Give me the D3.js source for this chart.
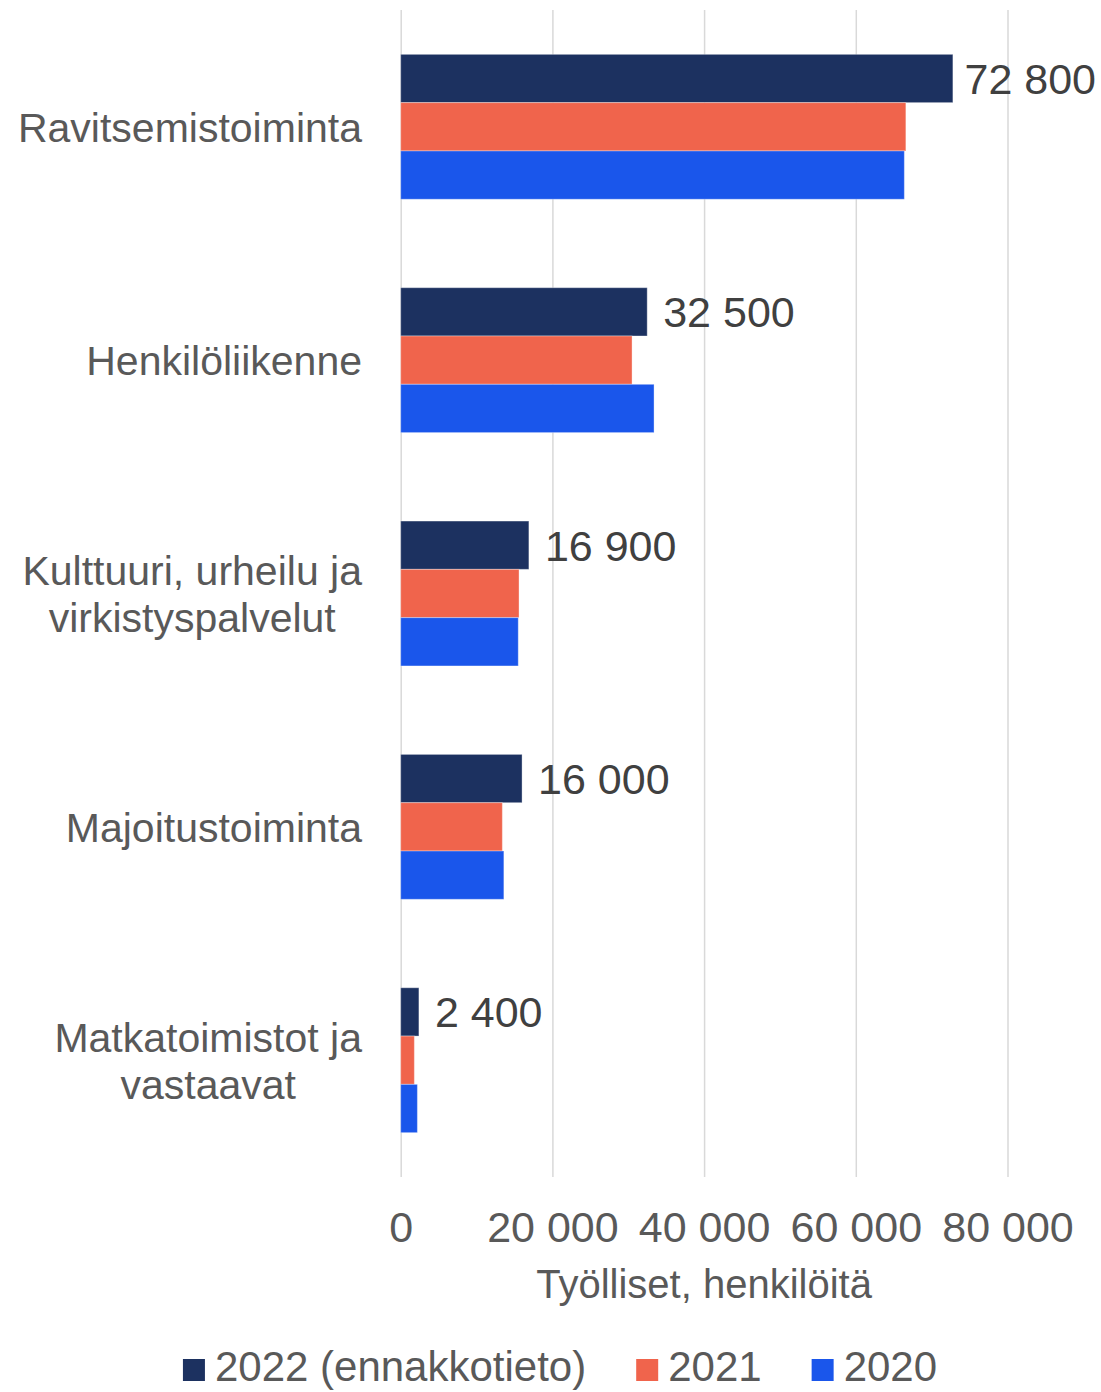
<!DOCTYPE html>
<html><head><meta charset="utf-8">
<script src="https://cdn.jsdelivr.net/npm/d3@7"></script>
<style>html,body{margin:0;padding:0;background:#fff;}svg{display:block;}</style>
</head><body>
<script>
const categories = ["Ravitsemistoiminta","Henkilöliikenne","Kulttuuri, urheilu ja\nvirkistyspalvelut","Majoitustoiminta","Matkatoimistot ja\nvastaavat"];
const seriesNames = ["2022 (ennakkotieto)","2021","2020"];
const values2022 = [72800, 32500, 16900, 16000, 2400];
const values2021 = [66600, 30500, 15600, 13400, 1800];
const values2020 = [66400, 33400, 15500, 13600, 2200];
const valueLabels = ["72 800","32 500","16 900","16 000","2 400"];
const tickValues = [0, 20000, 40000, 60000, 80000];
const tickLabels = ["0","20 000","40 000","60 000","80 000"];
const axisTitle = "Työlliset, henkilöitä";
const colors = ["#1c3160","#f0644c","#1a56eb"];

const W = 1101, H = 1392;
const FONT = "'Liberation Sans', Arial, sans-serif";
const svg = d3.select("body").append("svg").attr("width", W).attr("height", H);

const x = d3.scaleLinear().domain([0, 80000]).range([400.7, 1007.5]);
const y = d3.scaleBand().domain(categories).range([10, 1177]).paddingInner(0.379).paddingOuter(0.19);
const ys = d3.scaleBand().domain(seriesNames).range([0, y.bandwidth()]);

// gridlines
svg.append("g").attr("class","grid")
  .call(d3.axisBottom(x).tickValues(tickValues).tickSize(1177 - 10).tickFormat(""))
  .attr("transform","translate(0,10)")
  .call(g => g.select(".domain").remove())
  .call(g => g.selectAll("line").attr("stroke","#d9d9d9").attr("stroke-width",1.5));

// tick labels
const xa = svg.append("g").attr("transform","translate(0,1177)")
  .call(d3.axisBottom(x).tickValues(tickValues).tickSize(0).tickPadding(0).tickFormat((d,i)=>tickLabels[i]));
xa.select(".domain").remove();
xa.selectAll("text").attr("font-family",FONT).attr("font-size",43).attr("fill","#595959")
  .attr("dy",null).attr("y",65);

// bars
const seriesData = [values2022, values2021, values2020];
seriesData.forEach((vals, si) => {
  svg.append("g").selectAll("rect").data(categories).join("rect")
    .attr("x", x(0))
    .attr("y", c => y(c) + ys(seriesNames[si]))
    .attr("width", (c,i) => x(vals[i]) - x(0))
    .attr("height", ys.bandwidth())
    .attr("fill", colors[si])
    .attr("stroke", "#ffffff").attr("stroke-opacity", 0.35).attr("stroke-width", 1);
});

// value labels for 2022
const vl = svg.append("g").selectAll("text").data(categories).join("text")
  .attr("font-family",FONT).attr("font-size",43).attr("fill","#404040")
  .attr("y", c => y(c) + ys(seriesNames[0]) + ys.bandwidth()/2 + 15.5)
  .text((c,i)=>valueLabels[i]);
vl.attr("x", function(c,i){
  const w = this.getComputedTextLength();
  return Math.min(x(values2022[i]) + 16, W - 5 - w);
});

// category labels
categories.forEach(c => {
  const lines = c.split("\n");
  const g = svg.append("g");
  const texts = lines.map((ln, li) => g.append("text")
    .attr("font-family",FONT).attr("font-size",41).attr("fill","#595959")
    .attr("text-anchor","middle")
    .attr("y", y(c) + y.bandwidth()/2 + 15 + (li - (lines.length-1)/2) * 47)
    .text(ln));
  const maxW = d3.max(texts, t => t.node().getComputedTextLength());
  texts.forEach(t => t.attr("x", 362 - maxW/2));
});

// axis title
svg.append("text").attr("font-family",FONT).attr("font-size",40).attr("fill","#595959")
  .attr("text-anchor","middle").attr("x", (x(0)+x(80000))/2).attr("y", 1298).text(axisTitle);

// legend
const lg = svg.append("g");
let cx = 0;
seriesNames.forEach((n, i) => {
  const it = lg.append("g");
  it.append("rect").attr("x", 0).attr("y", -22).attr("width", 22).attr("height", 22).attr("fill", colors[i]);
  const t = it.append("text").attr("font-family",FONT).attr("font-size",42).attr("fill","#595959")
    .attr("x", 32).attr("y", 0).text(n);
  const w = 32 + t.node().getComputedTextLength();
  it.attr("transform", `translate(${cx},0)`);
  cx += w + 50;
});
const totalW = cx - 50;
lg.attr("transform", `translate(${560 - totalW/2},1381)`);
</script>
</body></html>
